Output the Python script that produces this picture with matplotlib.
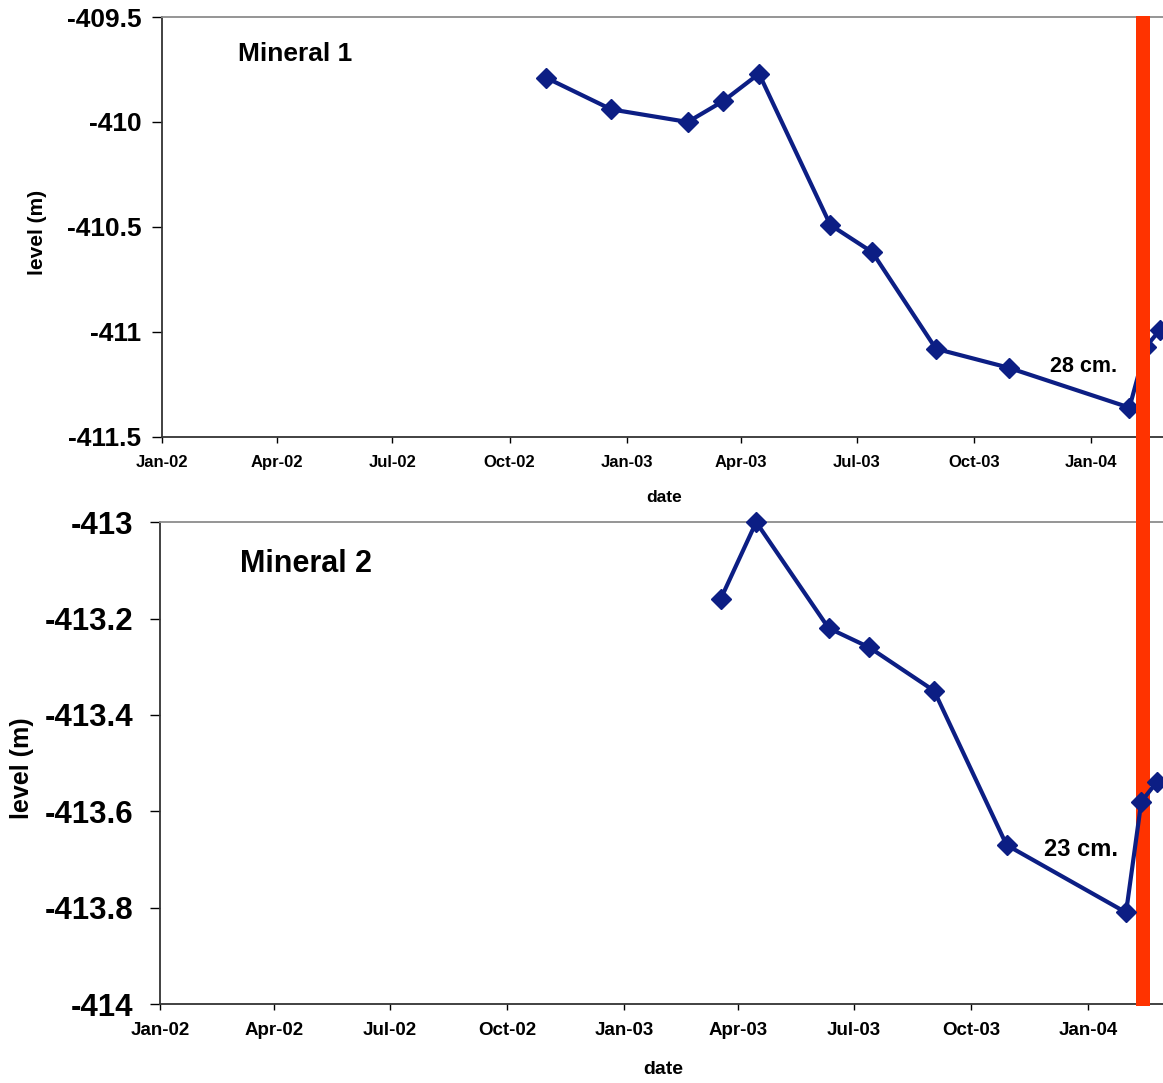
import pandas as pd
import matplotlib.pyplot as plt
import matplotlib.dates as mdates
from matplotlib.patches import Rectangle
from matplotlib.transforms import blended_transform_factory

plt.rcParams['font.family'] = ['Liberation Sans', 'DejaVu Sans']
plt.rcParams['font.weight'] = 'bold'
plt.rcParams['axes.unicode_minus'] = False

# Survey dates and levels for the two minerals
dates_1 = pd.to_datetime(["2002-10-30", "2002-12-20", "2003-02-18", "2003-03-18",
                          "2003-04-15", "2003-06-10", "2003-07-13", "2003-09-01",
                          "2003-10-28", "2004-01-31", "2004-02-13", "2004-02-24"])
level_1 = [-409.79, -409.94, -410.00, -409.90, -409.77, -410.49, -410.62,
           -411.08, -411.17, -411.36, -411.07, -410.99]

dates_2 = pd.to_datetime(["2003-03-18", "2003-04-15", "2003-06-11", "2003-07-13",
                          "2003-09-02", "2003-10-29", "2004-01-31", "2004-02-12",
                          "2004-02-24"])
level_2 = [-413.16, -413.00, -413.22, -413.26, -413.35, -413.67, -413.81,
           -413.58, -413.54]

yticks_1 = [-409.5, -410, -410.5, -411, -411.5]
yticks_2 = [-413, -413.2, -413.4, -413.6, -413.8, -414]

# quarterly date ticks
xticks = pd.to_datetime(["2002-01-01", "2002-04-01", "2002-07-01", "2002-10-01",
                         "2003-01-01", "2003-04-01", "2003-07-01", "2003-10-01",
                         "2004-01-01"])

x_start = pd.Timestamp("2002-01-01")
x_end = pd.Timestamp("2004-04-01")

# event marker (vertical band across both panels)
event_start = pd.Timestamp("2004-02-05")
event_end = pd.Timestamp("2004-02-16")

line_color = '#0c1e84'
band_color = '#ff3300'

fig = plt.figure(figsize=(11.63, 10.83), dpi=100)
ax1 = fig.add_axes([0.1393, 0.5965, 0.8986, 0.3878])
ax2 = fig.add_axes([0.1376, 0.0729, 0.8973, 0.4450])
ax2.set_facecolor('none')


def style_axes(ax, yticks, ysize, xsize, ypad):
    ax.set_xlim(x_start, x_end)
    ax.set_ylim(yticks[-1], yticks[0])
    ax.set_yticks(yticks)
    ax.set_yticklabels(['%g' % t for t in yticks])
    ax.set_xticks(xticks)
    ax.set_xticklabels([d.strftime('%b-%y') for d in xticks])
    ax.spines['right'].set_visible(False)
    ax.spines['top'].set_color('#8c8c8c')
    ax.spines['top'].set_linewidth(1.3)
    ax.spines['left'].set_color('#333333')
    ax.spines['bottom'].set_color('#333333')
    ax.spines['left'].set_linewidth(1.3)
    ax.spines['bottom'].set_linewidth(1.3)
    ax.tick_params(axis='y', length=7, width=1, pad=ypad, labelsize=ysize, colors='#000000')
    ax.tick_params(axis='x', length=4, width=1, pad=9, labelsize=xsize, colors='#000000')
    for lab in ax.get_xticklabels() + ax.get_yticklabels():
        lab.set_fontweight('bold')


style_axes(ax1, yticks_1, 19, 12, 8)
style_axes(ax2, yticks_2, 22.5, 13.5, 12)

# Mineral 1 sits under the band, Mineral 2 on top of it
ax1.plot(dates_1, level_1, color=line_color, lw=3, marker='D', ms=10.5,
         mec=line_color, mfc=line_color, zorder=2)
ax2.plot(dates_2, level_2, color=line_color, lw=3, marker='D', ms=10.5,
         mec=line_color, mfc=line_color, zorder=4, clip_on=False)

band_trans = blended_transform_factory(ax1.transData, fig.transFigure)
x0 = mdates.date2num(event_start)
x1 = mdates.date2num(event_end)
band = Rectangle((x0, 1 - 1006 / 1083), x1 - x0, (1006 - 16) / 1083,
                 transform=band_trans, facecolor=band_color, edgecolor='none',
                 clip_on=False, zorder=3)
ax2.add_patch(band)

# Labels
ax1.set_ylabel('level (m)', fontsize=15, fontweight='bold', va='center')
ax1.yaxis.set_label_coords(-0.119, 0.486)
ax2.set_ylabel('level (m)', fontsize=18, fontweight='bold', va='center')
ax2.yaxis.set_label_coords(-0.132, 0.49)

fig.text(664 / 1163, 1 - 497 / 1083, 'date', ha='center', va='center',
         fontsize=12.5, fontweight='bold')
fig.text(663 / 1163, 1 - 1070 / 1083, 'date', ha='center', va='center',
         fontsize=14, fontweight='bold')

ax1.text(0.127, 0.912, 'Mineral 1', transform=ax1.transAxes, ha='center',
         va='center', fontsize=19, fontweight='bold')
ax2.text(0.140, 0.913, 'Mineral 2', transform=ax2.transAxes, ha='center',
         va='center', fontsize=22, fontweight='bold')

ax1.text(0.882, 0.167, '28 cm.', transform=ax1.transAxes, ha='center',
         va='center', fontsize=15.5, fontweight='bold')
ax2.text(0.8826, 0.3216, '23 cm.', transform=ax2.transAxes, ha='center',
         va='center', fontsize=17, fontweight='bold')

fig.savefig('out.png', dpi=100)
